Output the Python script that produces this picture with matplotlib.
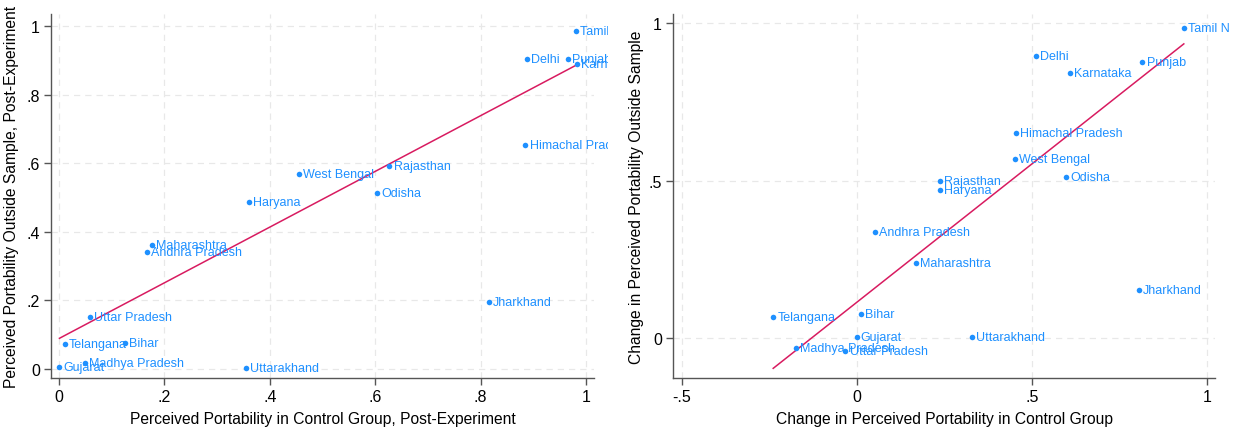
import numpy as np
import matplotlib
matplotlib.use("Agg")
import matplotlib.pyplot as plt
from matplotlib.transforms import Bbox

plt.rcParams['font.family'] = ['Liberation Sans', 'DejaVu Sans']

states = ["Tamil Nadu", "Delhi", "Punjab", "Karnataka", "Himachal Pradesh", "Rajasthan",
          "West Bengal", "Odisha", "Haryana", "Maharashtra", "Andhra Pradesh", "Jharkhand",
          "Uttar Pradesh", "Telangana", "Bihar", "Madhya Pradesh", "Gujarat", "Uttarakhand"]

# Left panel: levels post-experiment
ctrl_post = [0.980, 0.887, 0.966, 0.982, 0.885, 0.627, 0.456, 0.603, 0.360, 0.176, 0.167, 0.816,
             0.059, 0.011, 0.125, 0.049, 0.001, 0.354]
out_post = [0.985, 0.904, 0.903, 0.889, 0.652, 0.591, 0.567, 0.512, 0.487, 0.361, 0.342, 0.195,
            0.151, 0.071, 0.076, 0.018, 0.005, 0.002]
# fitted line (intercept, slope)
fit_left = [0.088, 0.813]

# Right panel: changes
ctrl_chg = [0.933, 0.511, 0.815, 0.608, 0.453, 0.236, 0.452, 0.598, 0.237, 0.169, 0.052, 0.804,
            -0.033, -0.239, 0.012, -0.175, -0.001, 0.329]
out_chg = [0.984, 0.896, 0.878, 0.844, 0.653, 0.499, 0.570, 0.513, 0.472, 0.237, 0.336, 0.153,
           -0.041, 0.066, 0.076, -0.032, 0.004, 0.002]
fit_right = [0.114, 0.880]

left_xticks = [0, 0.2, 0.4, 0.6, 0.8, 1.0]
left_xticklabels = ["0", ".2", ".4", ".6", ".8", "1"]
left_yticks = [0, 0.2, 0.4, 0.6, 0.8, 1.0]
left_yticklabels = ["0", ".2", ".4", ".6", ".8", "1"]
right_xticks = [-0.5, 0, 0.5, 1.0]
right_xticklabels = ["-.5", "0", ".5", "1"]
right_yticks = [0, 0.5, 1.0]
right_yticklabels = ["0", ".5", "1"]

W, H = 1237, 431
fig = plt.figure(figsize=(W / 100, H / 100), dpi=100)

def px_axes(l, r, t, b):
    return fig.add_axes([l / W, 1 - b / H, (r - l) / W, (b - t) / H])

ax1 = px_axes(51, 594, 15, 379)
ax2 = px_axes(673, 1215, 15, 379)

PT_COLOR = '#1E90FF'
LINE_COLOR = '#D81B60'
SPINE = '#555555'

def draw(ax, x, y, fit, xlim, ylim, xt, xtl, yt, ytl, xlabel, ylabel, clip_right, ylpad):
    x = np.asarray(x); y = np.asarray(y)
    ax.set_xlim(*xlim); ax.set_ylim(*ylim)
    ax.set_xticks(xt); ax.set_xticklabels(xtl)
    ax.set_yticks(yt); ax.set_yticklabels(ytl)
    ax.grid(True, color='#E8E8E8', linestyle=(0, (5, 4)), linewidth=0.9)
    ax.set_axisbelow(True)
    for s in ['top', 'right']:
        ax.spines[s].set_visible(False)
    for s in ['left', 'bottom']:
        ax.spines[s].set_color(SPINE)
        ax.spines[s].set_linewidth(1.0)
    ax.tick_params(axis='both', direction='out', length=5, width=1.0, color=SPINE,
                   labelsize=11.5, labelcolor='black', pad=3)
    ax.scatter(x, y, s=16, color=PT_COLOR, zorder=3, linewidths=0)
    clip = Bbox.from_extents(0, 0, clip_right, H)
    for xi, yi, name in zip(x, y, states):
        t = ax.annotate(name, (xi, yi), xytext=(3, 0), textcoords='offset points',
                        ha='left', va='center', fontsize=9, color=PT_COLOR,
                        annotation_clip=False)
        t.set_clip_on(True)
        t.set_clip_box(clip)
    a, b = fit
    xs = np.array([x.min(), x.max()])
    ax.plot(xs, a + b * xs, color=LINE_COLOR, linewidth=1.1, zorder=2)
    ax.set_xlabel(xlabel, fontsize=11.25, labelpad=5)
    ax.set_ylabel(ylabel, fontsize=11.25, labelpad=ylpad)

draw(ax1, ctrl_post, out_post, fit_left, (-0.015, 1.015), (-0.027, 1.035),
     left_xticks, left_xticklabels, left_yticks, left_yticklabels,
     "Perceived Portability in Control Group, Post-Experiment",
     "Perceived Portability Outside Sample, Post-Experiment", 608, 5)
draw(ax2, ctrl_chg, out_chg, fit_right, (-0.525, 1.022), (-0.127, 1.03),
     right_xticks, right_xticklabels, right_yticks, right_yticklabels,
     "Change in Perceived Portability in Control Group",
     "Change in Perceived Portability Outside Sample", 1229, 3)

fig.savefig("out.png", dpi=100)
